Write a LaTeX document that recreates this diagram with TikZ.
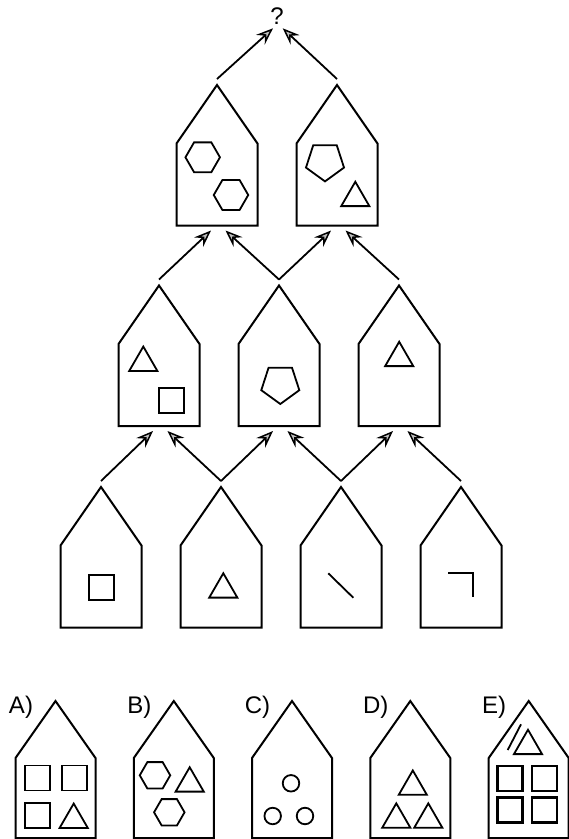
\documentclass[tikz,border=0pt]{standalone}
\usepackage{fontspec}
\setmainfont{Liberation Sans}
\usetikzlibrary{calc, arrows.meta, shapes.geometric, positioning}

\begin{document}
\begin{tikzpicture}[x=1pt, y=-1pt,
  wall/.style={line width=2pt, line join=miter},
  house/.style={minimum width=81pt, minimum height=82pt, inner sep=0pt, outer sep=0pt},
  opthouse/.style={minimum width=80pt, minimum height=80pt, inner sep=0pt, outer sep=0pt},
  fig/.style={draw, line width=1.8pt, inner sep=0pt, outer sep=0pt},
  stroke/.style={line width=1.8pt},
  hexa/.style={fig, regular polygon, regular polygon sides=6, minimum size=#1},
  hexa/.default=34.5pt,
  penta/.style={fig, regular polygon, regular polygon sides=5, shape border rotate=180, minimum size=40pt},
  tri/.style={fig, regular polygon, regular polygon sides=3, minimum size=32.5pt},
  sqr/.style={fig, regular polygon, regular polygon sides=4, minimum size=35.5pt},
  boldsqr/.style={sqr, line width=2.4pt},
  dot/.style={fig, circle, minimum size=16.5pt},
  link/.style={line width=1.8pt, -{Stealth[length=17pt, width=13pt, inset=6pt, fill=gray!50, line width=1.5pt]}},
  qmark/.style={font=\fontsize{24}{24}\selectfont, inner sep=0pt},
  optlabel/.style={font=\fontsize{24}{24}\selectfont, inner sep=0pt},
]
\useasboundingbox (0,0) rectangle (569,839);

% house bodies (rows of the tree)
\foreach \n/\x in {b1/101,b2/221,b3/341,b4/461} \node[house] (\n) at (\x,586.5) {};
\foreach \n/\x in {m1/159,m2/279,m3/399} \node[house] (\n) at (\x,385) {};
\foreach \n/\x in {t1/217,t2/337} \node[house] (\n) at (\x,184.5) {};
% answer houses A) .. E)
\foreach \n/\x in {A/55.5,B/173.8,C/292,D/410.3,E/528.7}{
  \node[opthouse] (opt\n) at (\x,798) {};
  \node[optlabel] (lab\n) at ($(opt\n.north)+(-34.5,-51)$) {\n)};
}

% outlines with roof, apex coordinate and start of arrow
\foreach \h/\r in {b1/58.5,b2/58.5,b3/58.5,b4/58.5,m1/58.5,m2/58.5,m3/58.5,t1/58.5,t2/58.5,
                   optA/57,optB/57,optC/57,optD/57,optE/57}{
  \draw[wall] (\h.north west) -- ($(\h.north)+(0,-\r)$) coordinate (\h-top)
    -- (\h.north east) -- (\h.south east) -- (\h.south west) -- cycle;
  \coordinate (\h-out) at ($(\h-top)+(0,-6)$);
}

% bottom row contents
\node[sqr] (b1s) at (101.5,587.5) {};
\node[tri] (b2t) at (223.3,589.5) {};
\draw[stroke] (328.3,573.3) -- (353.3,597.7);
\draw[stroke] (448.3,572.7) -- (473.3,572.7) -- (473.3,596.7);
% middle row contents
\node[tri] (m1t) at (143.3,362.8) {};
\node[sqr] (m1s) at (171.5,400.5) {};
\node[penta] (m2p) at (280.3,384) {};
\node[tri] (m3t) at (399.2,358) {};
% top row contents
\node[hexa] (t1h) at (202.7,157.3) {};
\node[hexa] (t1k) at (231,195) {};
\node[penta] (t2p) at (325,161.4) {};
\node[tri] (t2t) at (355.3,198) {};

% question mark
\node[qmark] (q) at (277,16.3) {?};

% arrow ends below each parent
\foreach \p in {m1,m2,m3,t1,t2}{
  \coordinate (\p-inl) at ($(\p.south)+(-6,5)$);
  \coordinate (\p-inr) at ($(\p.south)+(8.5,5)$);
}
\coordinate (q-inl) at ($(q)+(-4,12)$);
\coordinate (q-inr) at ($(q)+(5.7,12)$);
\foreach \c/\p in {b1/m1-inl,b2/m1-inr,b2/m2-inl,b3/m2-inr,b3/m3-inl,b4/m3-inr,
                   m1/t1-inl,m2/t1-inr,m2/t2-inl,m3/t2-inr,t1/q-inl,t2/q-inr}
  \draw[link] (\c-out) -- (\p);

% A)
\node[sqr] (a1) at (37.2,778) {};
\node[sqr] (a2) at (74.8,778) {};
\node[sqr] (a3) at (37.2,815.3) {};
\node[tri] (a4) at (73.7,819.8) {};
% B)
\node[hexa=30.5pt] (b1h) at (155,775.3) {};
\node[tri] (b1t) at (189.7,783.5) {};
\node[hexa=30.5pt] (b2h) at (169.3,812.3) {};
% C)
\node[dot] (c1) at (291,783.3) {};
\node[dot] (c2) at (272.7,816) {};
\node[dot] (c3) at (305,816) {};
% D)
\node[tri] (d1) at (412.8,786.7) {};
\node[tri] (d2) at (396.3,819.6) {};
\node[tri] (d3) at (428.3,819.6) {};
% E)
\node[tri] (e1) at (528,746) {};
\draw[stroke] (521,724.3) -- (507.7,750);
\node[boldsqr] (e2) at (510,778.3) {};
\node[boldsqr] (e3) at (544.5,778.3) {};
\node[boldsqr] (e4) at (510,810) {};
\node[boldsqr] (e5) at (544.5,810) {};
\end{tikzpicture}
\end{document}
